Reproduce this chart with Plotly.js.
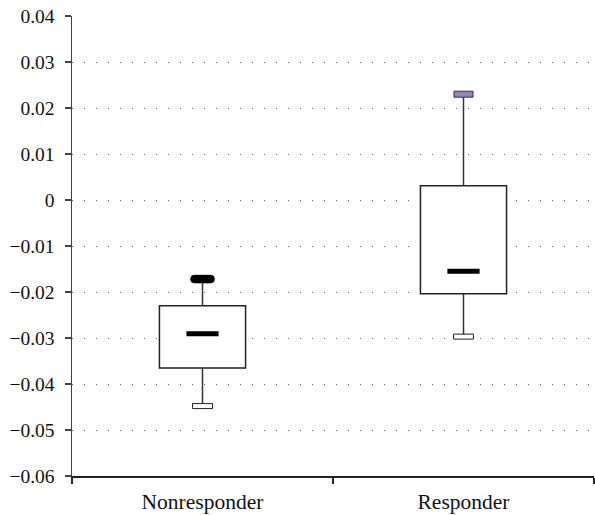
<!DOCTYPE html>
<html>
<head>
<meta charset="utf-8">
<script src="https://cdn.plot.ly/plotly-3.0.1.min.js"></script>
<style>html,body{margin:0;padding:0;background:#fff;}#chart{width:595px;height:515px;}</style>
</head>
<body>
<div id="chart"></div>
<script>
const categories = ['Nonresponder', 'Responder'];
const lowWhisker = [-0.0448, -0.0297];
const q1 = [-0.0365, -0.0204];
const median = [-0.0291, -0.0155];
const q3 = [-0.0230, 0.0031];
const highWhisker = [-0.0172, 0.0230];
const yTicks = [0.04, 0.03, 0.02, 0.01, 0, -0.01, -0.02, -0.03, -0.04, -0.05, -0.06];

// whisker segments built from the data arrays
const wx = [], wy = [];
categories.forEach((c, i) => {
  wx.push(c, c, null, c, c, null);
  wy.push(lowWhisker[i], q1[i], null, q3[i], highWhisker[i], null);
});

const traces = [
  {
    type: 'bar', x: categories, base: q1,
    y: q3.map((v, i) => v - q1[i]),
    width: 0.33,
    marker: {color: '#ffffff', line: {color: '#222222', width: 1.5}},
    hoverinfo: 'skip', showlegend: false
  },
  {
    type: 'scatter', mode: 'lines', x: wx, y: wy,
    line: {color: '#333333', width: 1.5},
    hoverinfo: 'skip', showlegend: false
  },
  {
    type: 'scatter', mode: 'markers', x: categories, y: median,
    marker: {symbol: 'line-ew', size: 23, color: '#000', line: {color: '#000', width: 5}},
    hoverinfo: 'skip', showlegend: false
  }
];

const shapes = [];
// lower whisker ends: open rectangles
lowWhisker.forEach((v, i) => {
  shapes.push({type: 'rect', xref: 'x', yref: 'y', xsizemode: 'pixel', ysizemode: 'pixel',
    xanchor: i, yanchor: v, x0: -10, x1: 10, y0: -2.5, y1: 2.5,
    fillcolor: '#ffffff', line: {color: '#222222', width: 1}, layer: 'above'});
});
// upper whisker ends
shapes.push({type: 'path', xref: 'x', yref: 'y', xsizemode: 'pixel', ysizemode: 'pixel',
  xanchor: 0, yanchor: highWhisker[0],
  path: 'M-8,-4H8Q12,-4 12,0Q12,4 8,4H-8Q-12,4 -12,0Q-12,-4 -8,-4Z',
  fillcolor: '#000000', line: {color: '#000000', width: 0.5}, layer: 'above'});
shapes.push({type: 'rect', xref: 'x', yref: 'y', xsizemode: 'pixel', ysizemode: 'pixel',
  xanchor: 1, yanchor: highWhisker[1], x0: -9.5, x1: 9.5, y0: -3, y1: 3,
  fillcolor: '#9b80bf', line: {color: '#333333', width: 1}, layer: 'above'});

const layout = {
  width: 595, height: 515,
  margin: {l: 72, r: 1, t: 16, b: 39},
  paper_bgcolor: '#ffffff', plot_bgcolor: '#ffffff',
  font: {family: '"Liberation Serif", "DejaVu Serif", serif', color: '#111111'},
  showlegend: false,
  xaxis: {
    type: 'category', categoryorder: 'array', categoryarray: categories,
    range: [-0.5, 1.5], tickson: 'boundaries', ticks: 'outside', ticklen: 6,
    tickcolor: '#222', tickwidth: 1.5,
    showline: true, linecolor: '#222', linewidth: 1.5,
    showgrid: false, zeroline: false,
    ticklabelstandoff: 6,
    tickfont: {size: 21.5, color: '#111'}
  },
  yaxis: {
    range: [-0.06, 0.04], tickmode: 'array', tickvals: yTicks,
    ticks: 'outside', ticklen: 6, tickcolor: '#444', tickwidth: 1.5,
    showline: true, linecolor: '#444', linewidth: 1.5,
    showgrid: true, gridcolor: '#666666', gridwidth: 1, griddash: '1px,11px',
    zeroline: false,
    ticklabelstandoff: 6,
    tickfont: {size: 19.5, color: '#111'}
  },
  shapes: shapes
};

Plotly.newPlot('chart', traces, layout, {staticPlot: true, displayModeBar: false});
</script>
</body>
</html>
